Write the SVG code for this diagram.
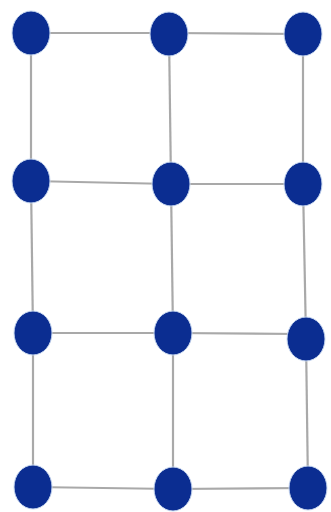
<svg xmlns="http://www.w3.org/2000/svg" width="331" height="512" viewBox="0 0 331 512">
<style>
.e{stroke:#a9a9a9;stroke-width:2.2;fill:none}
.n{fill:#0b2d91;stroke:#c8d8f0;stroke-width:1}
</style>
<rect width="331" height="512" fill="#ffffff"/>
<g id="edges">
<line class="e" x1="31" y1="33" x2="169" y2="33"/>
<line class="e" x1="169" y1="33" x2="303" y2="34"/>
<line class="e" x1="31" y1="181" x2="171" y2="184"/>
<line class="e" x1="171" y1="184" x2="303" y2="184"/>
<line class="e" x1="33" y1="333" x2="173" y2="333"/>
<line class="e" x1="173" y1="333" x2="300" y2="334"/>
<line class="e" x1="33" y1="487" x2="173" y2="489"/>
<line class="e" x1="173" y1="489" x2="308" y2="488"/>
<line class="e" x1="31" y1="33" x2="31" y2="181"/>
<line class="e" x1="31" y1="181" x2="33" y2="333"/>
<line class="e" x1="33" y1="333" x2="33" y2="487"/>
<line class="e" x1="169" y1="33" x2="171" y2="184"/>
<line class="e" x1="171" y1="184" x2="173" y2="333"/>
<line class="e" x1="173" y1="333" x2="173" y2="489"/>
<line class="e" x1="303" y1="34" x2="303" y2="184"/>
<line class="e" x1="303" y1="184" x2="306" y2="339"/>
<line class="e" x1="306" y1="339" x2="308" y2="488"/>
</g>
<g id="n11"><ellipse class="n" cx="31" cy="33" rx="19" ry="22"/></g>
<g id="n12"><ellipse class="n" cx="169" cy="34" rx="19" ry="22"/></g>
<g id="n13"><ellipse class="n" cx="303" cy="34" rx="19" ry="22"/></g>
<g id="n21"><ellipse class="n" cx="31" cy="181" rx="19" ry="22"/></g>
<g id="n22"><ellipse class="n" cx="171" cy="184" rx="19" ry="22"/></g>
<g id="n23"><ellipse class="n" cx="303" cy="184" rx="19" ry="22"/></g>
<g id="n31"><ellipse class="n" cx="33" cy="333" rx="19" ry="22"/></g>
<g id="n32"><ellipse class="n" cx="173" cy="333" rx="19" ry="22"/></g>
<g id="n33"><ellipse class="n" cx="306" cy="339" rx="19" ry="22"/></g>
<g id="n41"><ellipse class="n" cx="33" cy="487" rx="19" ry="22"/></g>
<g id="n42"><ellipse class="n" cx="173" cy="489" rx="19" ry="22"/></g>
<g id="n43"><ellipse class="n" cx="308" cy="488" rx="19" ry="22"/></g>
</svg>
